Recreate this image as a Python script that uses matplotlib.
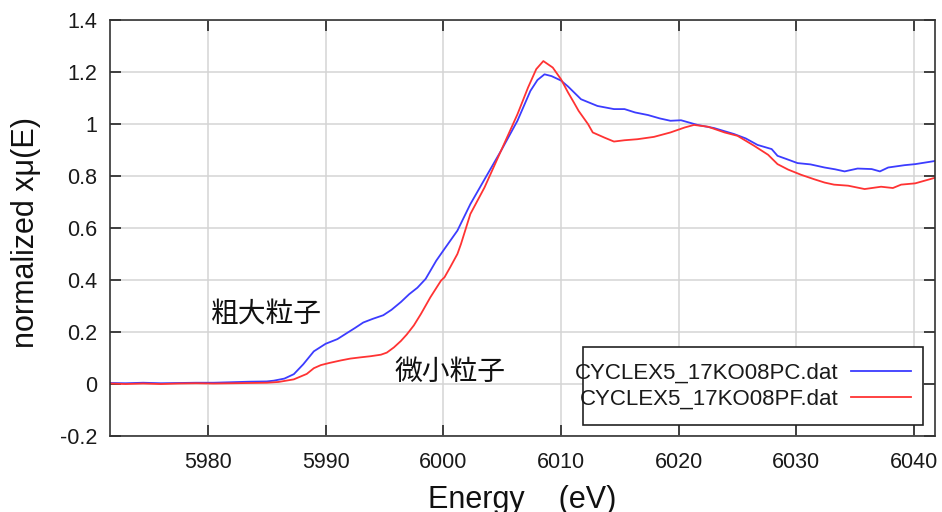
import matplotlib
matplotlib.use("Agg")
import matplotlib.pyplot as plt
from matplotlib.patches import Rectangle

plt.rcParams['font.family'] = ['Liberation Sans', 'Noto Sans CJK JP', 'DejaVu Sans']

# Blue: CYCLEX5_17KO08PC.dat (coarse particles)
pc_energy = [5971.7, 5973.0, 5974.5, 5976.0, 5977.5, 5979.0, 5980.5, 5982.0, 5983.5,
             5985.0, 5985.6, 5986.5, 5987.3, 5988.1, 5989.0, 5990.0, 5991.0, 5991.8,
             5992.5, 5993.2, 5994.0, 5994.9, 5995.6, 5996.4, 5997.1, 5997.8, 5998.5,
             5999.4, 6000.0, 6001.2, 6002.3, 6003.6, 6004.9, 6006.3, 6007.4, 6008.0,
             6008.6, 6009.2, 6010.0, 6010.6, 6011.7, 6013.1, 6014.5, 6015.4, 6016.3,
             6017.4, 6018.4, 6019.3, 6020.2, 6021.6, 6023.0, 6024.7, 6025.7, 6026.7,
             6027.9, 6028.4, 6029.2, 6030.1, 6031.2, 6032.4, 6033.3, 6034.1, 6035.2,
             6036.4, 6037.1, 6037.8, 6039.2, 6040.1, 6041.9]
pc_mu = [0.003, 0.002, 0.004, 0.002, 0.003, 0.004, 0.004, 0.006, 0.008,
         0.009, 0.012, 0.020, 0.037, 0.075, 0.125, 0.154, 0.172, 0.195,
         0.215, 0.236, 0.250, 0.264, 0.285, 0.315, 0.345, 0.370, 0.404,
         0.474, 0.513, 0.590, 0.692, 0.795, 0.897, 1.013, 1.128, 1.170,
         1.192, 1.185, 1.168, 1.145, 1.096, 1.070, 1.058, 1.058, 1.045,
         1.035, 1.022, 1.013, 1.015, 0.997, 0.985, 0.962, 0.945, 0.920,
         0.904, 0.878, 0.865, 0.850, 0.845, 0.833, 0.826, 0.818, 0.829,
         0.827, 0.818, 0.833, 0.842, 0.846, 0.859]

# Red: CYCLEX5_17KO08PF.dat (fine particles)
pf_energy = [5971.7, 5973.0, 5974.5, 5976.0, 5977.5, 5979.0, 5980.5, 5982.0, 5983.5,
             5985.0, 5986.0, 5987.3, 5988.4, 5989.0, 5989.6, 5990.3, 5991.3, 5992.1,
             5993.0, 5993.8, 5994.7, 5995.2, 5995.8, 5996.4, 5996.9, 5997.5, 5998.1,
             5998.9, 5999.8, 6000.1, 6000.6, 6001.2, 6001.5, 6002.3, 6003.5, 6004.9,
             6006.3, 6007.2, 6007.9, 6008.5, 6009.3, 6010.0, 6010.6, 6011.1, 6011.5,
             6012.3, 6012.7, 6013.7, 6014.5, 6015.4, 6016.5, 6017.9, 6019.3, 6020.5,
             6021.3, 6022.5, 6023.9, 6025.0, 6026.4, 6027.6, 6028.4, 6029.3, 6030.4,
             6031.5, 6032.4, 6033.2, 6034.4, 6035.8, 6037.2, 6038.2, 6038.9, 6040.1,
             6041.9]
pf_mu = [0.001, -0.001, 0.001, -0.001, 0.001, 0.002, 0.001, 0.002, 0.003,
         0.004, 0.007, 0.017, 0.038, 0.060, 0.072, 0.080, 0.090, 0.097,
         0.102, 0.106, 0.112, 0.120, 0.140, 0.165, 0.190, 0.225, 0.269,
         0.333, 0.397, 0.410, 0.450, 0.500, 0.538, 0.654, 0.756, 0.897,
         1.038, 1.141, 1.212, 1.243, 1.218, 1.173, 1.122, 1.083, 1.051,
         1.000, 0.968, 0.948, 0.933, 0.938, 0.942, 0.951, 0.968, 0.987,
         0.997, 0.990, 0.968, 0.955, 0.917, 0.882, 0.846, 0.825, 0.805,
         0.788, 0.775, 0.767, 0.763, 0.750, 0.759, 0.754, 0.767, 0.772,
         0.795]

labels = ['CYCLEX5_17KO08PC.dat', 'CYCLEX5_17KO08PF.dat']
colors = ['#3c3cff', '#ff3333']
x_ticks = [5980, 5990, 6000, 6010, 6020, 6030, 6040]
y_ticks = [-0.2, 0, 0.2, 0.4, 0.6, 0.8, 1, 1.2, 1.4]
y_tick_labels = ['-0.2', '0', '0.2', '0.4', '0.6', '0.8', '1', '1.2', '1.4']

W, H = 942, 512
fig = plt.figure(figsize=(W / 100, H / 100), dpi=100)
ax_l, ax_r, ax_t, ax_b = 110, 935, 20.3, 435.7
ax = fig.add_axes([ax_l / W, 1 - ax_b / H, (ax_r - ax_l) / W, (ax_b - ax_t) / H])

ax.plot(pc_energy, pc_mu, color=colors[0], lw=1.3, label=labels[0], zorder=2)
ax.plot(pf_energy, pf_mu, color=colors[1], lw=1.3, label=labels[1], zorder=2)

ax.set_xlim(5971.68, 6041.78)
ax.set_ylim(-0.2, 1.4)
ax.set_xticks(x_ticks)
ax.set_yticks(y_ticks)
ax.set_yticklabels(y_tick_labels)
ax.grid(True, color='#d4d4d4', lw=1.1, zorder=0)
ax.set_axisbelow(True)

for s in ax.spines.values():
    s.set_color('#333333')
    s.set_linewidth(1.2)
ax.tick_params(axis='both', which='major', direction='in', length=8, width=1.3,
               color='#333333', top=True, right=True, labelsize=15.5,
               labelcolor='#1a1a1a')
ax.tick_params(axis='x', pad=12)
ax.tick_params(axis='y', pad=9)

ax.set_xlabel('Energy    (eV)', fontsize=22, color='#111111')
ax.xaxis.set_label_coords(0.5, -0.119)
ax.xaxis.label.set_va('top')
ax.set_ylabel('normalized xμ(E)', fontsize=22, color='#111111')
ax.yaxis.set_label_coords(-0.084, 0.49)

ax.text(5984.96, 0.272, '粗大粒子', fontsize=20, ha='center', va='center',
        family=['Noto Sans CJK JP'], color='#111111')
ax.text(6000.53, 0.046, '微小粒子', fontsize=20, ha='center', va='center',
        family=['Noto Sans CJK JP'], color='#111111')

# legend box
bx0, bx1, by0, by1 = 582.7, 923.3, 346.7, 425
ax.add_patch(Rectangle(((bx0 - ax_l) / (ax_r - ax_l), (ax_b - by1) / (ax_b - ax_t)),
                       (bx1 - bx0) / (ax_r - ax_l), (by1 - by0) / (ax_b - ax_t),
                       transform=ax.transAxes, facecolor='white', edgecolor='#222222',
                       lw=1.2, zorder=3))
leg = ax.legend(loc='center right', bbox_to_anchor=((911 - ax_l) / (ax_r - ax_l),
                (ax_b - 386) / (ax_b - ax_t)),
                frameon=False, markerfirst=False, fontsize=16, handlelength=2.7,
                handletextpad=0.55, labelspacing=0.23, borderpad=0, borderaxespad=0)
leg.set_zorder(4)
for t in leg.get_texts():
    t.set_color('#1a1a1a')

fig.savefig('out.png', dpi=100)
